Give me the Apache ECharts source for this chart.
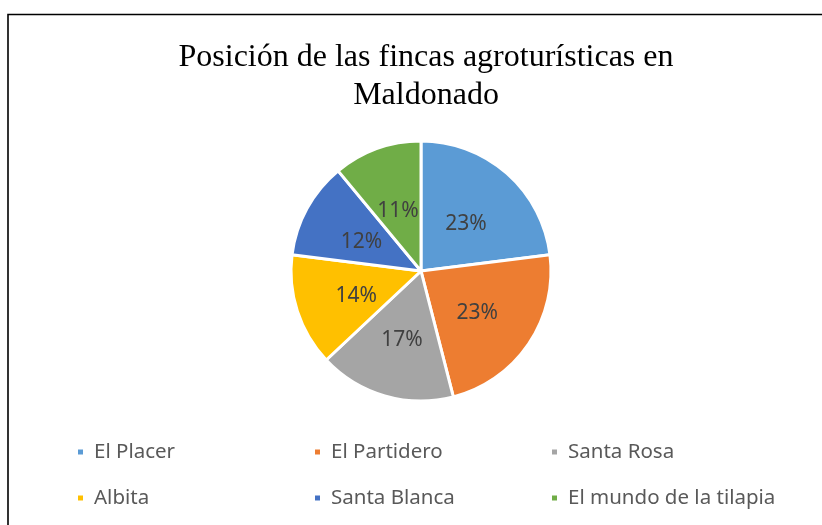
<!DOCTYPE html>
<html>
<head>
<meta charset="utf-8">
<script src="https://cdn.jsdelivr.net/npm/echarts@6/dist/echarts.min.js"></script>
<style>html,body{margin:0;padding:0;background:#fff;}#c{width:822px;height:525px;}</style>
</head>
<body>
<div id="c"></div>
<script>
var categories = ['El Placer', 'El Partidero', 'Santa Rosa', 'Albita', 'Santa Blanca', 'El mundo de la tilapia'];
var values = [23, 23, 17, 14, 12, 11];
var colors = ['#5B9BD5', '#ED7D31', '#A5A5A5', '#FFC000', '#4472C4', '#70AD47'];
var titleText = 'Posición de las fincas agroturísticas en\nMaldonado';

var chart = echarts.init(document.getElementById('c'), null, {renderer: 'canvas'});
var data = categories.map(function (n, i) { return {name: n, value: values[i], itemStyle: {color: colors[i]}}; });
var legendLeft = [76, 313, 550];
var legendTop = [440, 486];
var legends = categories.map(function (n, i) {
  return {
    data: [n], left: legendLeft[i % 3], top: legendTop[Math.floor(i / 3)],
    padding: 0, itemWidth: 7, itemHeight: 7, icon: 'rect', selectedMode: false,
    textStyle: {fontFamily: 'Noto Sans', fontSize: 20.5, color: '#595959', lineHeight: 24, padding: [0, 0, 0, 5]}
  };
});
chart.setOption({
  animation: false,
  backgroundColor: '#ffffff',
  title: {
    text: titleText,
    left: 421,
    textAlign: 'center',
    top: 34,
    textStyle: {fontFamily: 'Liberation Serif', fontSize: 32, fontWeight: 'normal', color: '#000000', lineHeight: 38}
  },
  legend: legends,
  graphic: [{
    type: 'rect', shape: {x: 8, y: 14.5, width: 830, height: 530},
    style: {fill: 'none', stroke: '#000000', lineWidth: 1.6}, silent: true
  }],
  series: [{
    type: 'pie',
    center: [421, 271],
    radius: [0, 130],
    startAngle: 90,
    clockwise: true,
    data: data,
    itemStyle: {borderColor: '#ffffff', borderWidth: 3},
    label: {
      show: true, position: 'inside', offset: [0, 4],
      formatter: function (p) { return Math.round(p.percent) + '%'; },
      fontFamily: 'Noto Sans', fontSize: 21, color: '#404040'
    },
    labelLine: {show: false},
    emphasis: {disabled: true}
  }]
});
</script>
</body>
</html>
